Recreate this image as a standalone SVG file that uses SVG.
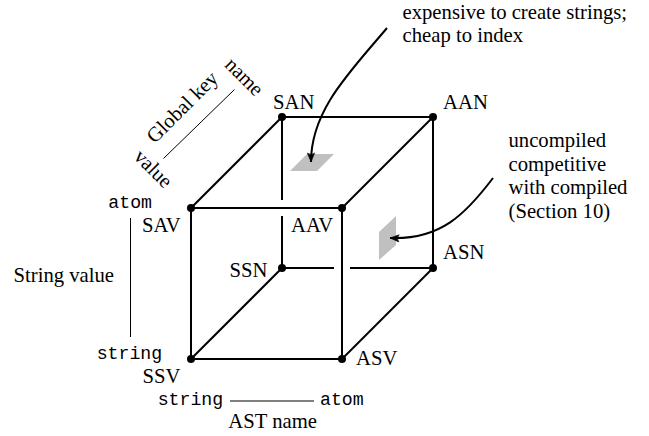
<svg xmlns="http://www.w3.org/2000/svg" width="649" height="436" viewBox="0 0 649 436">
<style>
.t{font-family:"Liberation Serif","Times New Roman",serif;font-size:20.7px;fill:#000}
.m{font-family:"Liberation Mono","Courier New",monospace;font-size:18.2px;fill:#000}
.e{stroke:#000;stroke-width:2;fill:none;stroke-linecap:butt}
.thin{stroke:#000;stroke-width:1;fill:none}
.dot{fill:#000}
.gray{fill:#c0c0c0;stroke:none}
.arr{stroke:#000;stroke-width:2;fill:none;marker-end:url(#ah)}
</style>
<defs>
<marker id="ah" markerUnits="userSpaceOnUse" viewBox="-10 -6 12 12" refX="0" refY="0" markerWidth="12" markerHeight="12" orient="auto">
<path d="M0,0 L-9,-3.6 Q-6,0 -9,3.6 Z" fill="#000" stroke="#000" stroke-width="0.6" stroke-linejoin="round"/>
</marker>
</defs>
<rect width="649" height="436" fill="#fff"/>

<g id="shading">
<polygon class="gray" points="290,171 317,171 334,154 307,154"/>
<polygon class="gray" points="379,260 379,232 396,216 396,245"/>
</g>

<g id="connectors">
<line class="e" x1="282" y1="117" x2="433" y2="117"/>
<line class="e" x1="433" y1="117" x2="433" y2="268"/>
<line class="e" x1="282" y1="117" x2="282" y2="200"/>
<line class="e" x1="282" y1="216" x2="282" y2="268"/>
<line class="e" x1="282" y1="268" x2="334" y2="268"/>
<line class="e" x1="350" y1="268" x2="433" y2="268"/>
<line class="e" x1="191" y1="208" x2="342" y2="208"/>
<line class="e" x1="191" y1="359" x2="342" y2="359"/>
<line class="e" x1="191" y1="208" x2="191" y2="359"/>
<line class="e" x1="342" y1="208" x2="342" y2="359"/>
<line class="e" x1="191" y1="208" x2="282" y2="117"/>
<line class="e" x1="342" y1="208" x2="433" y2="117"/>
<line class="e" x1="191" y1="359" x2="282" y2="268"/>
<line class="e" x1="342" y1="359" x2="433" y2="268"/>
<path class="arr" d="M387,28 C350,72 311,110 311,162"/>
<path class="arr" d="M493,178 C465,215 440,240 390,238"/>
</g>

<g id="SAN"><circle class="dot" cx="282" cy="117" r="4"/><text class="t" x="273" y="108.5">SAN</text></g>
<g id="AAN"><circle class="dot" cx="433" cy="117" r="4"/><text class="t" x="443" y="108.5">AAN</text></g>
<g id="SAV"><circle class="dot" cx="191" cy="208" r="4"/><text class="t" x="142" y="232">SAV</text></g>
<g id="AAV"><circle class="dot" cx="342" cy="208" r="4"/><text class="t" x="291" y="232">AAV</text></g>
<g id="SSN"><circle class="dot" cx="282" cy="268" r="4"/><text class="t" x="229.5" y="277">SSN</text></g>
<g id="ASN"><circle class="dot" cx="433" cy="268" r="4"/><text class="t" x="443" y="258.5">ASN</text></g>
<g id="SSV"><circle class="dot" cx="191" cy="359" r="4"/><text class="t" x="142.5" y="382.5">SSV</text></g>
<g id="ASV"><circle class="dot" cx="342" cy="359" r="4"/><text class="t" x="356" y="365">ASV</text></g>

<g id="note-top">
<text class="t" x="402.5" y="18.5">expensive to create strings;</text>
<text class="t" x="402.5" y="42">cheap to index</text>
</g>
<g id="note-right">
<text class="t" x="508.5" y="147">uncompiled</text>
<text class="t" x="508.5" y="170.5">competitive</text>
<text class="t" x="508.5" y="194">with compiled</text>
<text class="t" x="508.5" y="217.5">(Section 10)</text>
</g>

<g id="axis-global-key">
<line class="thin" x1="163.5" y1="158.5" x2="234.5" y2="89.5"/>
<text class="t" text-anchor="middle" transform="translate(187,112) rotate(-45)">Global key</text>
<text class="t" text-anchor="middle" transform="translate(239.5,81.5) rotate(45)">name</text>
<text class="t" text-anchor="middle" transform="translate(148.5,173.5) rotate(45)">value</text>
</g>

<g id="axis-string-value">
<line class="thin" x1="130.5" y1="218" x2="130.5" y2="337"/>
<text class="m" x="108.3" y="208">atom</text>
<text class="m" x="96.7" y="359">string</text>
<text class="t" x="13.5" y="281.5">String value</text>
</g>

<g id="axis-ast-name">
<line class="thin" x1="230" y1="401" x2="314" y2="401"/>
<text class="m" x="157.7" y="405">string</text>
<text class="m" x="320" y="405">atom</text>
<text class="t" x="228.3" y="428.3">AST name</text>
</g>
</svg>
